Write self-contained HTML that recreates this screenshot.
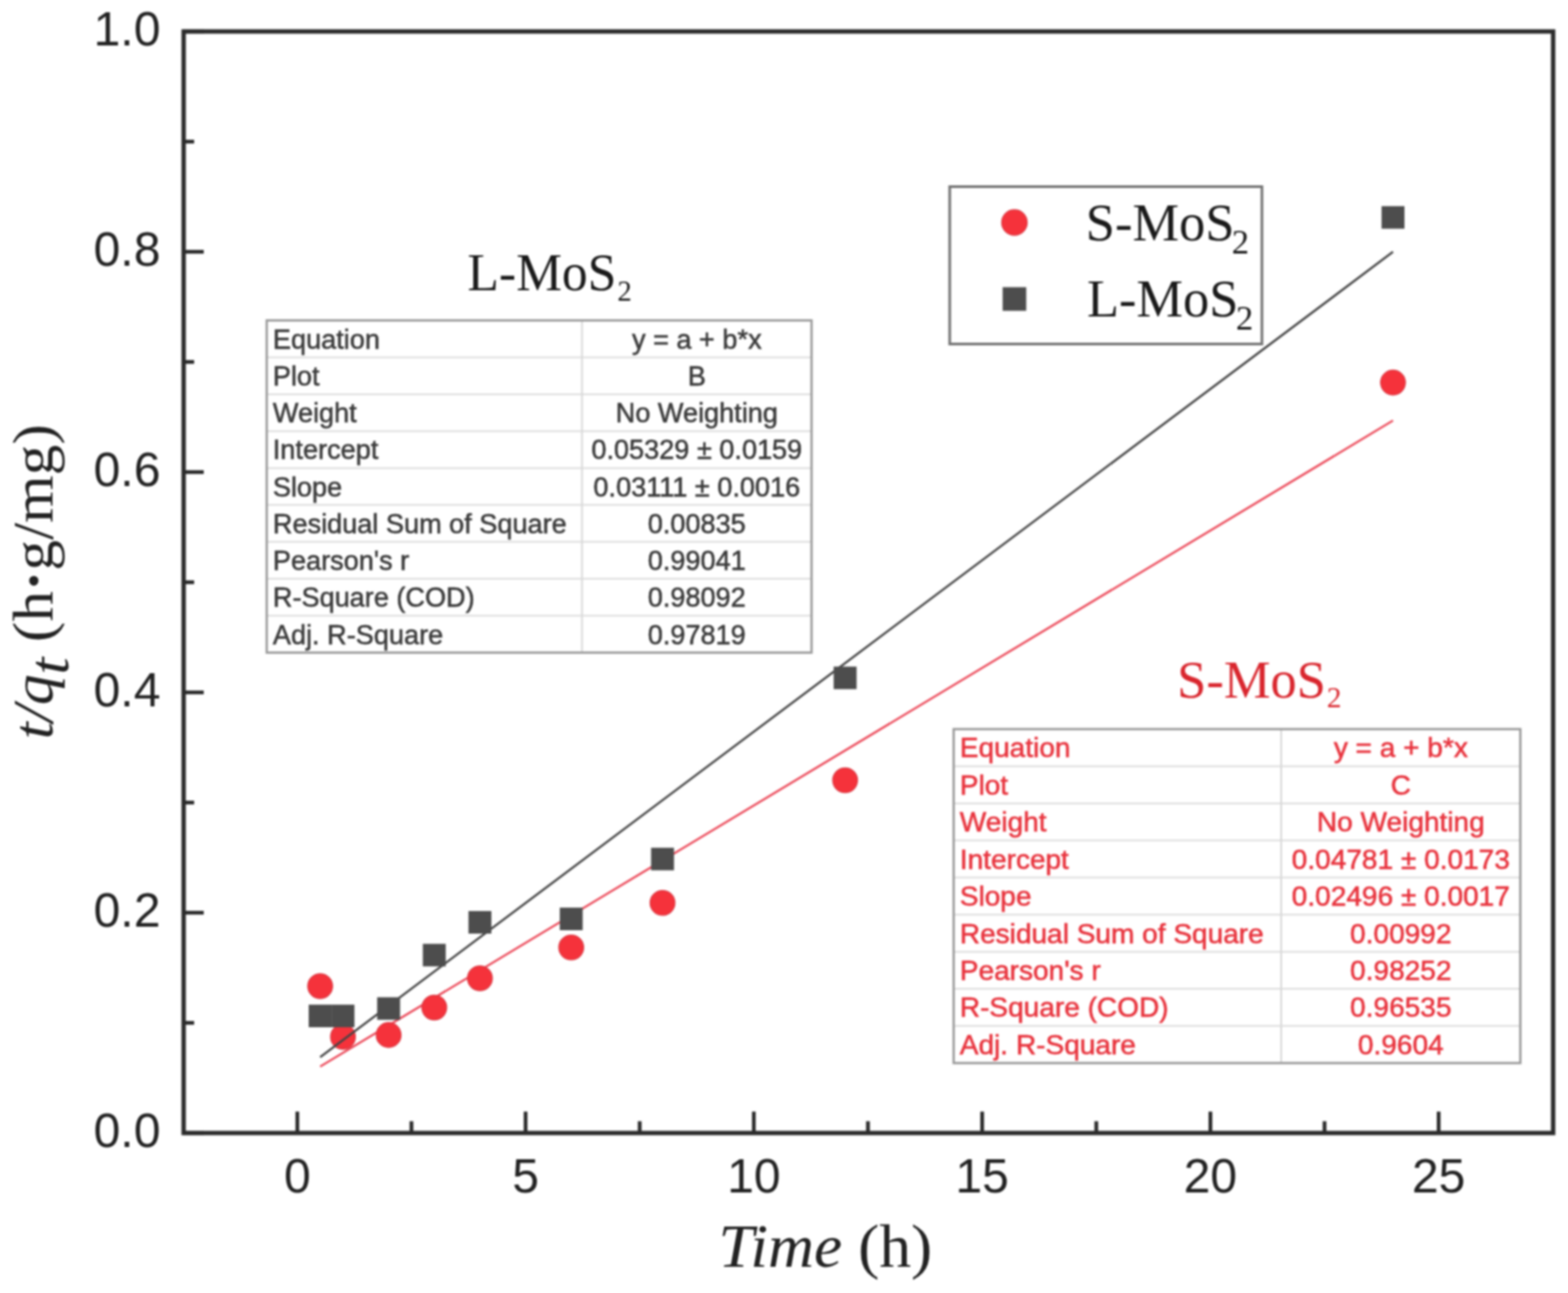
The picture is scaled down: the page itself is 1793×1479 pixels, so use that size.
<!DOCTYPE html><html><head><meta charset="utf-8"><title>t/qt vs Time</title>
<style>html,body{margin:0;padding:0;background:#fff;}svg{display:block;filter:blur(0.8px);}</style></head><body>
<svg width="1793" height="1479" viewBox="0 0 1793 1479">
<rect x="0" y="0" width="1793" height="1479" fill="#fff"/>
<line x1="366.1" y1="1220.0" x2="1592.9" y2="481.0" stroke="#ec4b5b" stroke-width="2.4"/>
<circle cx="366.1" cy="1128.0" r="14.2" fill="#f5323b" stroke="#dc3c46" stroke-width="1.2"/>
<circle cx="392.2" cy="1186.0" r="14.2" fill="#f5323b" stroke="#dc3c46" stroke-width="1.2"/>
<circle cx="444.4" cy="1183.9" r="14.2" fill="#f5323b" stroke="#dc3c46" stroke-width="1.2"/>
<circle cx="496.6" cy="1152.5" r="14.2" fill="#f5323b" stroke="#dc3c46" stroke-width="1.2"/>
<circle cx="548.8" cy="1119.0" r="14.2" fill="#f5323b" stroke="#dc3c46" stroke-width="1.2"/>
<circle cx="653.2" cy="1083.8" r="14.2" fill="#f5323b" stroke="#dc3c46" stroke-width="1.2"/>
<circle cx="757.6" cy="1032.8" r="14.2" fill="#f5323b" stroke="#dc3c46" stroke-width="1.2"/>
<circle cx="966.4" cy="892.5" r="14.2" fill="#f5323b" stroke="#dc3c46" stroke-width="1.2"/>
<circle cx="1592.9" cy="437.6" r="14.2" fill="#f5323b" stroke="#dc3c46" stroke-width="1.2"/>
<line x1="366.1" y1="1209.3" x2="1592.9" y2="288.1" stroke="#454545" stroke-width="2.5"/>
<rect x="353.0" y="1149.2" width="26.2" height="25.8" fill="#4d4d4d"/>
<rect x="379.1" y="1149.2" width="26.2" height="25.8" fill="#4d4d4d"/>
<rect x="431.3" y="1140.7" width="26.2" height="25.8" fill="#4d4d4d"/>
<rect x="483.5" y="1079.6" width="26.2" height="25.8" fill="#4d4d4d"/>
<rect x="535.7" y="1042.1" width="26.2" height="25.8" fill="#4d4d4d"/>
<rect x="640.1" y="1038.2" width="26.2" height="25.8" fill="#4d4d4d"/>
<rect x="744.5" y="969.7" width="26.2" height="25.8" fill="#4d4d4d"/>
<rect x="953.3" y="762.5" width="26.2" height="25.8" fill="#4d4d4d"/>
<rect x="1579.8" y="235.8" width="26.2" height="25.8" fill="#4d4d4d"/>
<rect x="210" y="36" width="1566" height="1260" fill="none" stroke="#2b2b2b" stroke-width="5"/>
<line x1="340.0" y1="1296" x2="340.0" y2="1271.5" stroke="#2b2b2b" stroke-width="4.3"/>
<line x1="601.0" y1="1296" x2="601.0" y2="1271.5" stroke="#2b2b2b" stroke-width="4.3"/>
<line x1="862.0" y1="1296" x2="862.0" y2="1271.5" stroke="#2b2b2b" stroke-width="4.3"/>
<line x1="1123.1" y1="1296" x2="1123.1" y2="1271.5" stroke="#2b2b2b" stroke-width="4.3"/>
<line x1="1384.1" y1="1296" x2="1384.1" y2="1271.5" stroke="#2b2b2b" stroke-width="4.3"/>
<line x1="1645.1" y1="1296" x2="1645.1" y2="1271.5" stroke="#2b2b2b" stroke-width="4.3"/>
<line x1="470.5" y1="1296" x2="470.5" y2="1282.5" stroke="#2b2b2b" stroke-width="4.3"/>
<line x1="731.5" y1="1296" x2="731.5" y2="1282.5" stroke="#2b2b2b" stroke-width="4.3"/>
<line x1="992.5" y1="1296" x2="992.5" y2="1282.5" stroke="#2b2b2b" stroke-width="4.3"/>
<line x1="1253.6" y1="1296" x2="1253.6" y2="1282.5" stroke="#2b2b2b" stroke-width="4.3"/>
<line x1="1514.6" y1="1296" x2="1514.6" y2="1282.5" stroke="#2b2b2b" stroke-width="4.3"/>
<line x1="210" y1="1296.0" x2="233" y2="1296.0" stroke="#2b2b2b" stroke-width="4.3"/>
<line x1="210" y1="1044.0" x2="233" y2="1044.0" stroke="#2b2b2b" stroke-width="4.3"/>
<line x1="210" y1="792.0" x2="233" y2="792.0" stroke="#2b2b2b" stroke-width="4.3"/>
<line x1="210" y1="540.0" x2="233" y2="540.0" stroke="#2b2b2b" stroke-width="4.3"/>
<line x1="210" y1="288.0" x2="233" y2="288.0" stroke="#2b2b2b" stroke-width="4.3"/>
<line x1="210" y1="36.0" x2="233" y2="36.0" stroke="#2b2b2b" stroke-width="4.3"/>
<line x1="210" y1="1170.0" x2="222" y2="1170.0" stroke="#2b2b2b" stroke-width="4.3"/>
<line x1="210" y1="918.0" x2="222" y2="918.0" stroke="#2b2b2b" stroke-width="4.3"/>
<line x1="210" y1="666.0" x2="222" y2="666.0" stroke="#2b2b2b" stroke-width="4.3"/>
<line x1="210" y1="414.0" x2="222" y2="414.0" stroke="#2b2b2b" stroke-width="4.3"/>
<line x1="210" y1="162.0" x2="222" y2="162.0" stroke="#2b2b2b" stroke-width="4.3"/>
<g font-family="'Liberation Sans', Arial, sans-serif" font-size="55" fill="#222">
<text x="183.5" y="1311.8" text-anchor="end">0.0</text>
<text x="183.5" y="1059.8" text-anchor="end">0.2</text>
<text x="183.5" y="807.8" text-anchor="end">0.4</text>
<text x="183.5" y="555.8" text-anchor="end">0.6</text>
<text x="183.5" y="303.8" text-anchor="end">0.8</text>
<text x="183.5" y="51.8" text-anchor="end">1.0</text>
<text x="340.0" y="1364" text-anchor="middle">0</text>
<text x="601.0" y="1364" text-anchor="middle">5</text>
<text x="862.0" y="1364" text-anchor="middle">10</text>
<text x="1123.1" y="1364" text-anchor="middle">15</text>
<text x="1384.1" y="1364" text-anchor="middle">20</text>
<text x="1645.1" y="1364" text-anchor="middle">25</text>
</g>
<text transform="translate(821.5,1449) scale(1.055,1)" font-family="'Liberation Serif', 'Times New Roman', serif" font-size="69" fill="#222"><tspan font-style="italic">Time</tspan> (h)</text>
<text transform="translate(60,845.4) rotate(-90) scale(1.062,1)" font-family="'Liberation Serif', 'Times New Roman', serif" font-size="66" fill="#222"><tspan font-style="italic">t/q</tspan><tspan font-style="italic" dy="18">t</tspan><tspan dy="-18"> (h</tspan><tspan font-weight="bold">·</tspan>g/mg)</text>
<rect x="1086" y="213.5" width="357" height="180" fill="#fff" stroke="#727272" stroke-width="3"/>
<circle cx="1160" cy="254.5" r="14.6" fill="#f5323b" stroke="#dc3c46" stroke-width="1.2"/>
<rect x="1146.5" y="328.5" width="27" height="27" fill="#4d4d4d"/>
<text transform="translate(1241.6,275) scale(0.967,1)" font-family="'Liberation Serif', 'Times New Roman', serif" font-size="62" fill="#1a1a1a">S-MoS<tspan font-size="41" dx="-3" dy="15">2</tspan></text>
<text transform="translate(1243,362) scale(0.967,1)" font-family="'Liberation Serif', 'Times New Roman', serif" font-size="62" fill="#1a1a1a">L-MoS<tspan font-size="41" dx="-3" dy="15">2</tspan></text>
<text transform="translate(534.5,331.6) scale(0.967,1)" font-family="'Liberation Serif', 'Times New Roman', serif" font-size="61" fill="#1a1a1a">L-MoS<tspan font-size="34" dx="1" dy="12.5">2</tspan></text>
<rect x="305" y="366.5" width="623" height="380.0" fill="#fff"/>
<line x1="305" y1="408.7" x2="928" y2="408.7" stroke="#dedede" stroke-width="2"/>
<line x1="305" y1="450.9" x2="928" y2="450.9" stroke="#dedede" stroke-width="2"/>
<line x1="305" y1="493.2" x2="928" y2="493.2" stroke="#dedede" stroke-width="2"/>
<line x1="305" y1="535.4" x2="928" y2="535.4" stroke="#dedede" stroke-width="2"/>
<line x1="305" y1="577.6" x2="928" y2="577.6" stroke="#dedede" stroke-width="2"/>
<line x1="305" y1="619.8" x2="928" y2="619.8" stroke="#dedede" stroke-width="2"/>
<line x1="305" y1="662.1" x2="928" y2="662.1" stroke="#dedede" stroke-width="2"/>
<line x1="305" y1="704.3" x2="928" y2="704.3" stroke="#dedede" stroke-width="2"/>
<line x1="665.5" y1="366.5" x2="665.5" y2="746.5" stroke="#d8d8d8" stroke-width="2"/>
<rect x="305" y="366.5" width="623" height="380.0" fill="none" stroke="#999" stroke-width="2.6"/>
<g font-family="'Liberation Sans', Arial, sans-serif" font-size="31" fill="#3a3a3a" stroke="#3a3a3a" stroke-width="0.6">
<text transform="translate(312.0,398.7) scale(1.0,1)">Equation</text>
<text transform="translate(796.8,398.7) scale(1.0,1)" text-anchor="middle">y = a + b*x</text>
<text transform="translate(312.0,440.9) scale(1.0,1)">Plot</text>
<text transform="translate(796.8,440.9) scale(1.0,1)" text-anchor="middle">B</text>
<text transform="translate(312.0,483.2) scale(1.0,1)">Weight</text>
<text transform="translate(796.8,483.2) scale(1.0,1)" text-anchor="middle">No Weighting</text>
<text transform="translate(312.0,525.4) scale(1.0,1)">Intercept</text>
<text transform="translate(796.8,525.4) scale(1.0,1)" text-anchor="middle">0.05329 ± 0.0159</text>
<text transform="translate(312.0,567.6) scale(1.0,1)">Slope</text>
<text transform="translate(796.8,567.6) scale(1.0,1)" text-anchor="middle">0.03111 ± 0.0016</text>
<text transform="translate(312.0,609.8) scale(1.0,1)">Residual Sum of Square</text>
<text transform="translate(796.8,609.8) scale(1.0,1)" text-anchor="middle">0.00835</text>
<text transform="translate(312.0,652.0) scale(1.0,1)">Pearson's r</text>
<text transform="translate(796.8,652.0) scale(1.0,1)" text-anchor="middle">0.99041</text>
<text transform="translate(312.0,694.3) scale(1.0,1)">R-Square (COD)</text>
<text transform="translate(796.8,694.3) scale(1.0,1)" text-anchor="middle">0.98092</text>
<text transform="translate(312.0,736.5) scale(1.0,1)">Adj. R-Square</text>
<text transform="translate(796.8,736.5) scale(1.0,1)" text-anchor="middle">0.97819</text>
</g>
<text transform="translate(1346,798) scale(0.985,1)" font-family="'Liberation Serif', 'Times New Roman', serif" font-size="61" fill="#d9262e">S-MoS<tspan font-size="34" dx="1" dy="10.5">2</tspan></text>
<rect x="1090.5" y="834" width="648.0" height="382" fill="#fff"/>
<line x1="1090.5" y1="876.4" x2="1738.5" y2="876.4" stroke="#dedede" stroke-width="2"/>
<line x1="1090.5" y1="918.9" x2="1738.5" y2="918.9" stroke="#dedede" stroke-width="2"/>
<line x1="1090.5" y1="961.3" x2="1738.5" y2="961.3" stroke="#dedede" stroke-width="2"/>
<line x1="1090.5" y1="1003.8" x2="1738.5" y2="1003.8" stroke="#dedede" stroke-width="2"/>
<line x1="1090.5" y1="1046.2" x2="1738.5" y2="1046.2" stroke="#dedede" stroke-width="2"/>
<line x1="1090.5" y1="1088.7" x2="1738.5" y2="1088.7" stroke="#dedede" stroke-width="2"/>
<line x1="1090.5" y1="1131.1" x2="1738.5" y2="1131.1" stroke="#dedede" stroke-width="2"/>
<line x1="1090.5" y1="1173.6" x2="1738.5" y2="1173.6" stroke="#dedede" stroke-width="2"/>
<line x1="1465" y1="834" x2="1465" y2="1216" stroke="#d8d8d8" stroke-width="2"/>
<rect x="1090.5" y="834" width="648.0" height="382" fill="none" stroke="#999" stroke-width="2.6"/>
<g font-family="'Liberation Sans', Arial, sans-serif" font-size="31" fill="#e8333d" stroke="#e8333d" stroke-width="0.6">
<text transform="translate(1097.5,866.3) scale(1.035,1)">Equation</text>
<text transform="translate(1601.8,866.3) scale(1.035,1)" text-anchor="middle">y = a + b*x</text>
<text transform="translate(1097.5,908.8) scale(1.035,1)">Plot</text>
<text transform="translate(1601.8,908.8) scale(1.035,1)" text-anchor="middle">C</text>
<text transform="translate(1097.5,951.2) scale(1.035,1)">Weight</text>
<text transform="translate(1601.8,951.2) scale(1.035,1)" text-anchor="middle">No Weighting</text>
<text transform="translate(1097.5,993.7) scale(1.035,1)">Intercept</text>
<text transform="translate(1601.8,993.7) scale(1.035,1)" text-anchor="middle">0.04781 ± 0.0173</text>
<text transform="translate(1097.5,1036.1) scale(1.035,1)">Slope</text>
<text transform="translate(1601.8,1036.1) scale(1.035,1)" text-anchor="middle">0.02496 ± 0.0017</text>
<text transform="translate(1097.5,1078.5) scale(1.035,1)">Residual Sum of Square</text>
<text transform="translate(1601.8,1078.5) scale(1.035,1)" text-anchor="middle">0.00992</text>
<text transform="translate(1097.5,1121.0) scale(1.035,1)">Pearson's r</text>
<text transform="translate(1601.8,1121.0) scale(1.035,1)" text-anchor="middle">0.98252</text>
<text transform="translate(1097.5,1163.4) scale(1.035,1)">R-Square (COD)</text>
<text transform="translate(1601.8,1163.4) scale(1.035,1)" text-anchor="middle">0.96535</text>
<text transform="translate(1097.5,1205.9) scale(1.035,1)">Adj. R-Square</text>
<text transform="translate(1601.8,1205.9) scale(1.035,1)" text-anchor="middle">0.9604</text>
</g>
</svg></body></html>
